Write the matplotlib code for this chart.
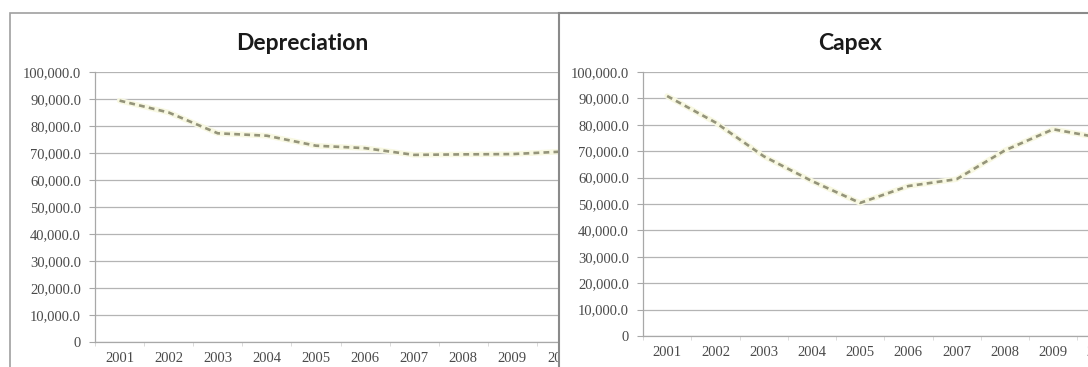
import matplotlib.pyplot as plt
from matplotlib.patches import Rectangle
from matplotlib.ticker import FuncFormatter, MultipleLocator

# Yearly values
years = ['2001', '2002', '2003', '2004', '2005', '2006', '2007', '2008', '2009', '2010']
depreciation = [89400, 85000, 77300, 76400, 72700, 71800, 69300, 69500, 69600, 70500]
capex = [90900, 80900, 68100, 58700, 50400, 56800, 59400, 70300, 78300, 75000]

W, H = 1088, 367


def px_box(left, top, width, height):
    # pixel box (top-left origin) -> figure fraction
    return [left / W, 1 - (top + height) / H, width / W, height / H]


def money(v, pos):
    if v == 0:
        return '0'
    return '{:,.1f}'.format(v)


def draw_chart(ax, values, title, title_x):
    x = list(range(1, len(values) + 1))
    # faint glow under the dashed line
    ax.plot(x, values, color='#f8f8e2', lw=4.0, solid_capstyle='round', zorder=3)
    ax.plot(x, values, color='#94947a', lw=1.9, linestyle=(0, (2.2, 1.6)), zorder=4)

    ax.set_xlim(0.5, 10.5)
    ax.set_ylim(0, 100000)
    ax.set_xticks(x)
    ax.set_xticklabels(years)
    ax.xaxis.set_minor_locator(MultipleLocator(1, offset=0.5))
    ax.yaxis.set_major_locator(MultipleLocator(10000))
    ax.yaxis.set_major_formatter(FuncFormatter(money))

    ax.grid(axis='y', color='#b4b4b4', lw=0.9)
    ax.set_axisbelow(True)
    ax.patch.set_visible(False)
    for side in ['top', 'right']:
        ax.spines[side].set_visible(False)
    for side in ['left', 'bottom']:
        ax.spines[side].set_color('#a8a8a8')
        ax.spines[side].set_linewidth(0.9)

    ax.tick_params(axis='y', length=4, color='#a8a8a8', pad=6,
                   labelsize=10.5, labelcolor='#4a4a4a')
    ax.tick_params(axis='x', which='major', length=0, pad=7,
                   labelsize=10.5, labelcolor='#4a4a4a')
    ax.tick_params(axis='x', which='minor', length=3, color='#d4d4d4')
    for lab in ax.get_xticklabels() + ax.get_yticklabels():
        lab.set_family('Liberation Serif')

    ax.figure.text(title_x / W, 1 - 43 / H, title, ha='center', va='center',
                   fontsize=16.5, fontweight='bold', family='Lato', color='#1a1a1a')


fig = plt.figure(figsize=(W / 100, H / 100), dpi=100)

# Depreciation panel
fig.patches.append(Rectangle((10 / W, -0.1), 560 / W, 1 - 13 / H + 0.1,
                             transform=fig.transFigure, facecolor='white',
                             edgecolor='#a0a0a0', lw=1.2, zorder=0))
ax1 = fig.add_axes(px_box(95, 72, 491, 270), zorder=1)
draw_chart(ax1, depreciation, 'Depreciation', 302)

# Capex panel sits on top of the first one
fig.patches.append(Rectangle((559 / W, -0.1), 600 / W, 1 - 13 / H + 0.1,
                             transform=fig.transFigure, facecolor='white',
                             edgecolor='#8a8a8a', lw=1.5, zorder=2))
ax2 = fig.add_axes(px_box(643, 72, 482.5, 264), zorder=3)
draw_chart(ax2, capex, 'Capex', 850)

fig.savefig('out.png', dpi=100)
